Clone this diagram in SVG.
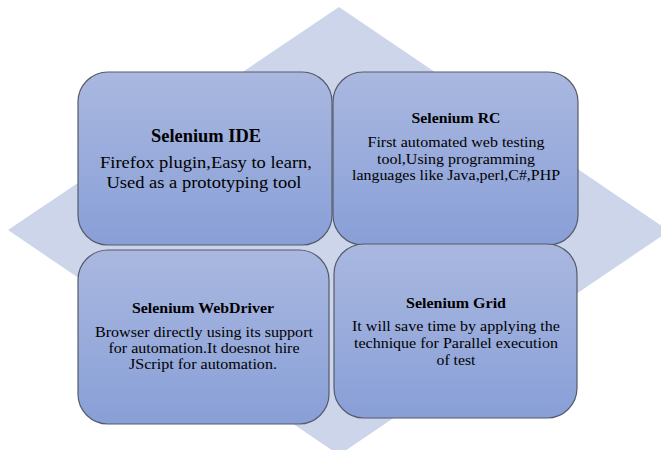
<svg xmlns="http://www.w3.org/2000/svg" width="661" height="450" viewBox="0 0 661 450">
<defs>
<linearGradient id="g" x1="0" y1="0" x2="0" y2="1">
<stop offset="0" stop-color="#AAB8E0"/>
<stop offset="1" stop-color="#889FD7"/>
</linearGradient>
<style>
.box{fill:url(#g);stroke:#555B6A;stroke-width:1.2}
text{font-family:"Liberation Serif",Tinos,"Times New Roman",Times,"DejaVu Serif","Noto Serif",serif;fill:#000;text-anchor:middle}
.t{font-weight:bold}
</style>
</defs>
<rect width="661" height="450" fill="#fff"/>
<polygon points="339,7 669,231 339,455 8,230" fill="#CDD5EA"/>
<g id="connectors"></g>
<g id="ide">
<rect class="box" x="78" y="72" width="254" height="173" rx="30"/>
<text class="t" x="206" y="142" font-size="18" textLength="110" lengthAdjust="spacingAndGlyphs">Selenium IDE</text>
<text x="206" y="168" font-size="17" textLength="212" lengthAdjust="spacingAndGlyphs">Firefox plugin,Easy to learn,</text>
<text x="204" y="188" font-size="17" textLength="195" lengthAdjust="spacingAndGlyphs">Used as a prototyping tool</text>
</g>
<g id="rc">
<rect class="box" x="333" y="72" width="245" height="173" rx="30"/>
<text class="t" x="456" y="123" font-size="15" textLength="89" lengthAdjust="spacingAndGlyphs">Selenium RC</text>
<text x="456" y="147" font-size="15" textLength="177" lengthAdjust="spacingAndGlyphs">First automated web testing</text>
<text x="456" y="164" font-size="15" textLength="158" lengthAdjust="spacingAndGlyphs">tool,Using programming</text>
<text x="456" y="180" font-size="15" textLength="208" lengthAdjust="spacingAndGlyphs">languages like Java,perl,C#,PHP</text>
</g>
<g id="webdriver">
<rect class="box" x="78" y="250" width="251" height="174" rx="30"/>
<text class="t" x="203" y="313" font-size="15" textLength="142" lengthAdjust="spacingAndGlyphs">Selenium WebDriver</text>
<text x="204" y="337" font-size="15" textLength="218" lengthAdjust="spacingAndGlyphs">Browser directly using its support</text>
<text x="204" y="353" font-size="15" textLength="191" lengthAdjust="spacingAndGlyphs">for automation.It doesnot hire</text>
<text x="203" y="369" font-size="15" textLength="148" lengthAdjust="spacingAndGlyphs">JScript for automation.</text>
</g>
<g id="grid">
<rect class="box" x="334" y="244" width="243" height="174" rx="30"/>
<text class="t" x="456" y="308" font-size="15" textLength="100" lengthAdjust="spacingAndGlyphs">Selenium Grid</text>
<text x="456" y="331" font-size="15" textLength="208" lengthAdjust="spacingAndGlyphs">It will save time by applying the</text>
<text x="456" y="348" font-size="15" textLength="204" lengthAdjust="spacingAndGlyphs">technique for Parallel execution</text>
<text x="456" y="365" font-size="15" textLength="39" lengthAdjust="spacingAndGlyphs">of test</text>
</g>
</svg>
